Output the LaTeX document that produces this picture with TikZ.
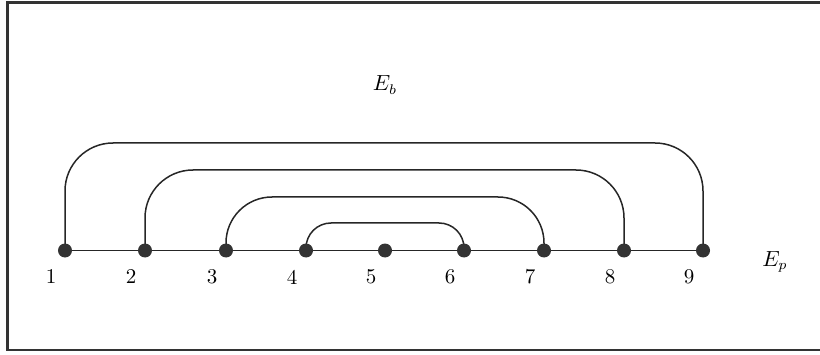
\documentclass[tikz,border=0pt]{standalone}
\usetikzlibrary{backgrounds}
\newcommand{\biglab}[1]{\scalebox{2}{\fontsize{10.5}{12}\selectfont #1}}
\begin{document}
\begin{tikzpicture}[x=1pt,y=1pt,
  dot/.style={circle,fill=black!80,inner sep=0pt,minimum size=14pt},
  lab/.style={inner sep=0pt},
  edge/.style={line width=1.5pt,black!85},
  arcedge/.style={line width=1.5pt,black!85}]
\useasboundingbox (0,0) rectangle (820,354);
\draw[line width=2.2pt,black!80] (821,351.5) -- (7.5,351.5) -- (7.5,4) -- (821,4);
\foreach \i/\x in {1/65,2/145,3/226,4/306,5/385,6/464,7/544,8/624,9/703}{
  \node[dot] (n\i) at (\x,103.5) {};
  \node[lab] (l\i) at (\x-14,77) {\biglab{\i}};
}
\node[lab] (ep) at (775,92) {\biglab{$E_p$}};
\node[lab] (eb) at (385,269) {\biglab{$E_b$}};
\begin{scope}[on background layer]
\draw[edge] (n1.center) -- (n9.center);
\draw[arcedge,rounded corners=48pt] (n1.center) -- ++(0,107.5) -| (n9.center);
\draw[arcedge,rounded corners=48pt] (n2.center) -- ++(0,80.5) -| (n8.center);
\draw[arcedge,rounded corners=46pt] (n3.center) -- ++(0,53.5) -| (n7.center);
\draw[arcedge,rounded corners=25pt] (n4.center) -- ++(0,27.5) -| (n6.center);
\end{scope}
\end{tikzpicture}
\end{document}
